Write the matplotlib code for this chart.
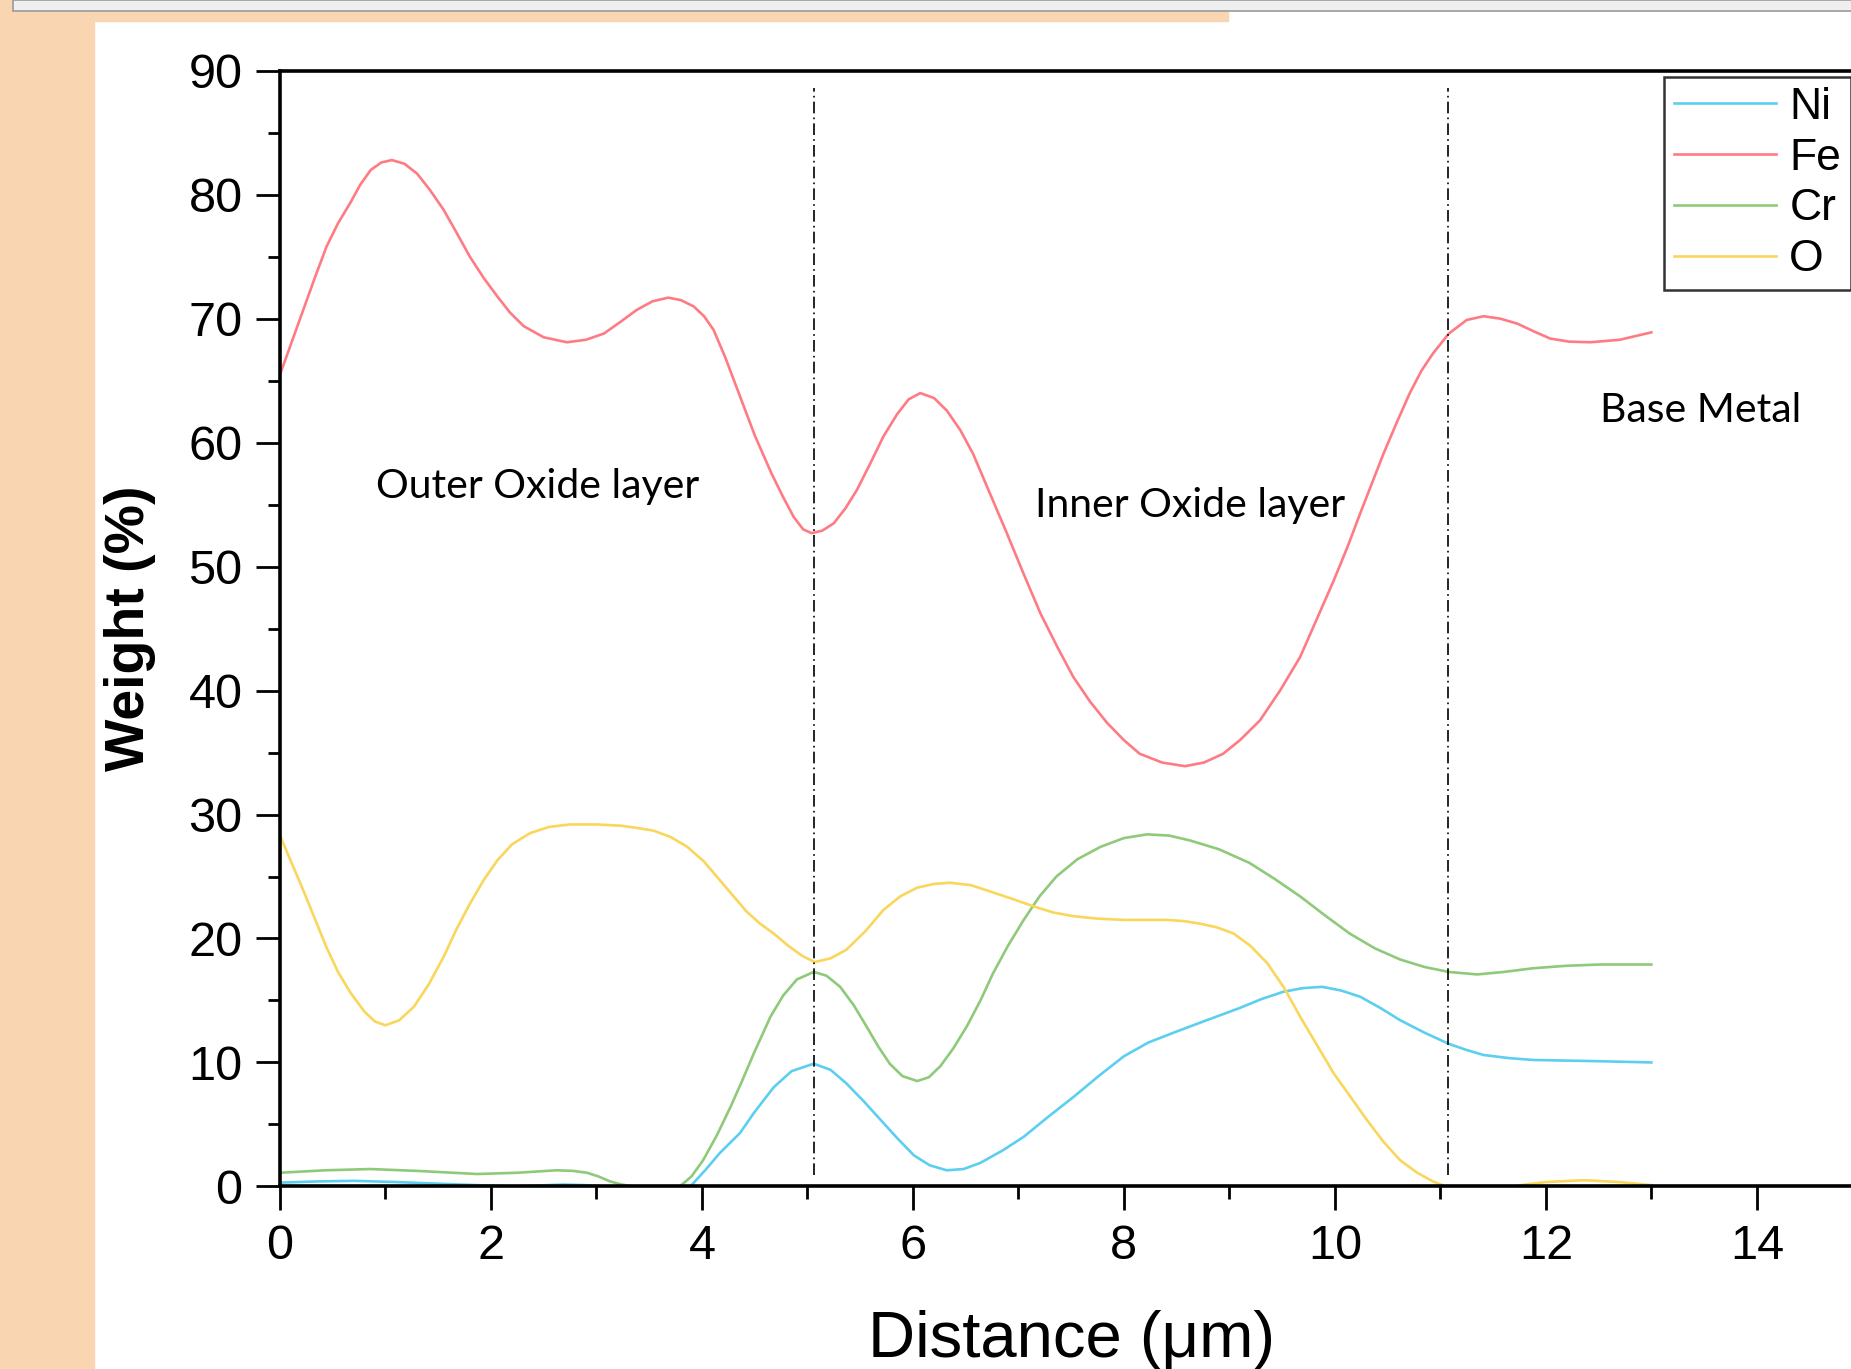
import matplotlib
matplotlib.use("Agg")
import matplotlib.pyplot as plt
from matplotlib.patches import Rectangle
from matplotlib.ticker import MultipleLocator

# values (distance in um, weight %)
ni_x = [0.0, 0.35, 0.70, 1.1, 1.56, 2.2, 2.69, 2.9, 3.1, 3.5, 3.89, 4.03,
        4.17, 4.36, 4.49, 4.58, 4.68, 4.85, 5.06, 5.22, 5.37, 5.53, 5.69,
        5.85, 6.01, 6.16, 6.32, 6.48, 6.64, 6.85, 7.05, 7.28, 7.52, 7.76,
        8.00, 8.23, 8.47, 8.72, 8.91, 9.10, 9.30, 9.51, 9.70, 9.88, 10.06,
        10.24, 10.43, 10.62, 10.85, 11.08, 11.25, 11.41, 11.65, 11.88,
        12.5, 13.0]
ni_y = [0.3, 0.4, 0.45, 0.35, 0.2, 0.0, 0.15, 0.1, 0.0, -0.3, 0.0, 1.3,
        2.7, 4.3, 5.9, 6.9, 8.0, 9.3, 9.9, 9.4, 8.3, 6.9, 5.4,
        3.9, 2.5, 1.7, 1.3, 1.4, 1.9, 2.9, 4.0, 5.6, 7.2, 8.9,
        10.5, 11.6, 12.4, 13.2, 13.8, 14.4, 15.1, 15.7, 16.0, 16.1, 15.8,
        15.3, 14.4, 13.4, 12.4, 11.5, 11.0, 10.6, 10.35, 10.2,
        10.1, 10.0]

fe_x = [0.0, 0.11, 0.22, 0.33, 0.44, 0.55, 0.67, 0.76, 0.86, 0.96, 1.06,
        1.18, 1.30, 1.42, 1.55, 1.67, 1.80, 1.93, 2.06, 2.18, 2.31, 2.50,
        2.72, 2.90, 3.07, 3.22, 3.38, 3.53, 3.68, 3.80, 3.92, 4.02, 4.11,
        4.22, 4.34, 4.50, 4.66, 4.77, 4.87, 4.96, 5.04, 5.14, 5.25, 5.36,
        5.47, 5.60, 5.72, 5.85, 5.96, 6.07, 6.20, 6.32, 6.45, 6.57, 6.73,
        6.89, 7.05, 7.21, 7.37, 7.52, 7.68, 7.84, 8.00, 8.15, 8.36, 8.58,
        8.76, 8.94, 9.10, 9.29, 9.48, 9.67, 9.83, 9.99, 10.12, 10.24,
        10.35, 10.46, 10.59, 10.71, 10.82, 10.93, 11.08, 11.25, 11.41,
        11.57, 11.73, 11.88, 12.04, 12.22, 12.42, 12.70, 12.85, 13.0]
fe_y = [65.5, 68.1, 70.7, 73.3, 75.8, 77.7, 79.4, 80.8, 82.0, 82.6, 82.8,
        82.5, 81.7, 80.4, 78.8, 77.0, 75.0, 73.3, 71.8, 70.5, 69.4, 68.5,
        68.1, 68.3, 68.8, 69.7, 70.7, 71.4, 71.7, 71.5, 71.0, 70.2, 69.1,
        66.9, 64.2, 60.6, 57.5, 55.6, 54.0, 53.0, 52.7, 52.9, 53.5, 54.7,
        56.2, 58.4, 60.5, 62.3, 63.5, 64.0, 63.6, 62.6, 61.0, 59.1, 55.9,
        52.7, 49.4, 46.2, 43.5, 41.1, 39.1, 37.4, 36.0, 34.9, 34.2, 33.9,
        34.2, 34.9, 36.0, 37.6, 40.0, 42.7, 45.8, 48.9, 51.6, 54.3,
        56.7, 59.1, 61.7, 64.0, 65.8, 67.2, 68.8, 69.9, 70.2,
        70.0, 69.6, 69.0, 68.4, 68.15, 68.1, 68.3, 68.6, 68.9]

cr_x = [0.0, 0.43, 0.86, 1.3, 1.87, 2.25, 2.62, 2.78, 2.91, 3.02, 3.13,
        3.24, 3.34, 3.55, 3.79, 3.90, 4.01, 4.14, 4.27, 4.38, 4.49, 4.57,
        4.65, 4.77, 4.90, 5.06, 5.18, 5.31, 5.44, 5.56, 5.67, 5.78, 5.90,
        6.04, 6.15, 6.26, 6.38, 6.51, 6.64, 6.76, 6.90, 7.05, 7.20, 7.36,
        7.56, 7.78, 8.00, 8.22, 8.43, 8.63, 8.90, 9.19, 9.43, 9.67, 9.90,
        10.14, 10.38, 10.62, 10.85, 11.08, 11.35, 11.60, 11.88, 12.2,
        12.51, 13.0]
cr_y = [1.1, 1.3, 1.4, 1.25, 1.0, 1.1, 1.3, 1.25, 1.1, 0.8, 0.4,
        0.15, 0.0, -0.5, 0.0, 0.8, 2.1, 4.1, 6.4, 8.5, 10.7, 12.2,
        13.7, 15.4, 16.7, 17.3, 17.0, 16.1, 14.6, 12.9, 11.3, 9.9, 8.9,
        8.5, 8.8, 9.7, 11.1, 12.9, 15.0, 17.2, 19.4, 21.5, 23.4, 25.0,
        26.4, 27.4, 28.1, 28.4, 28.3, 27.9, 27.2, 26.1, 24.8, 23.4, 21.9,
        20.4, 19.2, 18.3, 17.7, 17.3, 17.1, 17.3, 17.6, 17.8,
        17.9, 17.9]

o_x = [0.0, 0.11, 0.22, 0.33, 0.44, 0.55, 0.67, 0.80, 0.90, 1.00, 1.13,
       1.27, 1.41, 1.55, 1.67, 1.80, 1.93, 2.06, 2.20, 2.37, 2.55, 2.75,
       3.0, 3.23, 3.40, 3.54, 3.70, 3.86, 4.02, 4.17, 4.30, 4.42, 4.55,
       4.68, 4.82, 4.95, 5.07, 5.22, 5.37, 5.55, 5.72, 5.88, 6.04, 6.20,
       6.35, 6.55, 6.73, 6.94, 7.14, 7.33, 7.52, 7.75, 8.00, 8.20, 8.41,
       8.57, 8.72, 8.88, 9.04, 9.20, 9.36, 9.52, 9.67, 9.83, 9.99, 10.15,
       10.30, 10.46, 10.62, 10.78, 10.93, 11.05, 11.15, 11.45, 11.69,
       11.85, 12.0, 12.36, 12.7, 13.0]
o_y = [28.3, 26.1, 23.9, 21.6, 19.3, 17.3, 15.6, 14.1, 13.3, 13.0, 13.4,
       14.5, 16.3, 18.5, 20.7, 22.8, 24.7, 26.3, 27.6, 28.5, 29.0, 29.2,
       29.2, 29.1, 28.9, 28.7, 28.2, 27.4, 26.2, 24.7, 23.4, 22.2, 21.2,
       20.4, 19.4, 18.6, 18.1, 18.4, 19.1, 20.6, 22.3, 23.4, 24.1, 24.4,
       24.5, 24.3, 23.8, 23.2, 22.6, 22.1, 21.8, 21.6, 21.5, 21.5, 21.5,
       21.4, 21.2, 20.9, 20.4, 19.4, 18.0, 16.0, 13.7, 11.4, 9.1, 7.2,
       5.4, 3.6, 2.1, 1.1, 0.4, 0.0, -0.2, -0.6, 0.0,
       0.2, 0.35, 0.5, 0.35, 0.1]

series = [("Ni", ni_x, ni_y, "#5ccff0"),
          ("Fe", fe_x, fe_y, "#ff7b84"),
          ("Cr", cr_x, cr_y, "#8fc97a"),
          ("O", o_x, o_y, "#f9d65c")]

boundaries = [5.06, 11.07]
regions = [("Outer Oxide layer", 2.44, 56.5),
           ("Inner Oxide layer", 8.63, 54.9),
           ("Base Metal", 13.47, 62.6)]
x_ticks = [0, 2, 4, 6, 8, 10, 12, 14]

plt.rcParams["font.family"] = ["Liberation Sans", "DejaVu Sans"]

fig = plt.figure(figsize=(18.51, 13.69), dpi=100)
W, H = 1851, 1369

# screenshot surroundings: orange margin and grey bar at the top
orange = "#f9d5b1"
fig.patches.append(Rectangle((0, 0), 94 / W, 1, transform=fig.transFigure,
                             color=orange, zorder=-10))
fig.patches.append(Rectangle((0, 1 - 21 / H), 1228 / W, 21 / H,
                             transform=fig.transFigure, color=orange, zorder=-10))
fig.patches.append(Rectangle((13 / W, 1 - 11 / H), 1, 11 / H,
                             transform=fig.transFigure, facecolor="#efefef",
                             edgecolor="#9a9a9a", lw=1.2, zorder=-9))

# the plot runs past the right edge of the screenshot
ax = fig.add_axes([280 / W, 1 - 1186.4 / H, 1.0, (1186.4 - 70.8) / H])
ax.set_facecolor("none")

for name, xs, ys, col in series:
    ax.plot(xs, ys, color=col, lw=1.9, label=name, solid_joinstyle="round")

ax.vlines(boundaries, 0.9, 88.6, colors="black", lw=1.2,
          linestyles=[(0, (7, 2.5, 1, 2.5))])

for txt, x, y in regions:
    ax.text(x, y, txt, ha="center", va="center", fontsize=29.5,
            family=["Lato", "DejaVu Sans"])

ax.set_xlim(0, W / 105.49)
ax.set_ylim(0, 90)
ax.set_xticks(x_ticks)
ax.xaxis.set_minor_locator(MultipleLocator(1))
ax.yaxis.set_major_locator(MultipleLocator(10))
ax.yaxis.set_minor_locator(MultipleLocator(5))
ax.tick_params(which="major", length=17, width=2.0, labelsize=35, pad=10,
               direction="out")
ax.tick_params(which="minor", length=9, width=2.0, direction="out")
ax.tick_params(top=False, right=False)
for s in ["left", "bottom", "top"]:
    ax.spines[s].set_linewidth(2.6)
ax.spines["right"].set_visible(False)

fig.text(130 / W, 1 - 628 / H, "Weight (%)", rotation=90, ha="center",
         va="center", fontsize=40, fontweight="bold")
fig.text(1072 / W, 1 - 1340 / H, "Distance (\u03bcm)", ha="center",
         va="center", fontsize=47)

leg = ax.legend(loc="upper left", bbox_to_anchor=(1664 / W, 1 - 77 / H),
                bbox_transform=fig.transFigure, fontsize=32, frameon=True,
                fancybox=False, handlelength=2.3, handletextpad=0.3,
                labelspacing=0.22, borderpad=0.22, borderaxespad=0)
leg.get_frame().set_edgecolor("black")
leg.get_frame().set_linewidth(1.8)

fig.savefig("out.png", dpi=100)
